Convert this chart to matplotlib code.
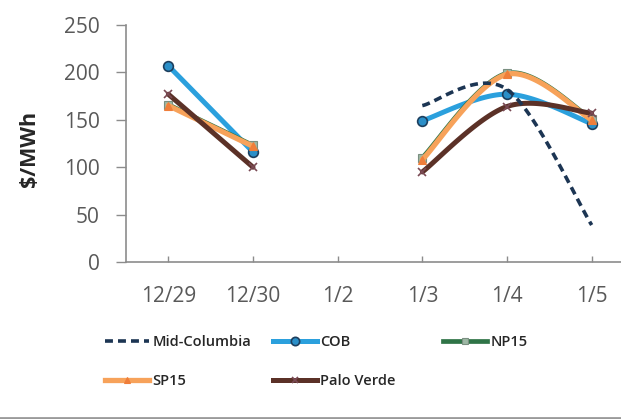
import numpy as np
import matplotlib
matplotlib.use("Agg")
import matplotlib.pyplot as plt
from matplotlib.lines import Line2D

categories = ["12/29", "12/30", "1/2", "1/3", "1/4", "1/5"]
mid_columbia = [None, None, None, 165, 182, 39]
cob = [207, 116, None, 149, 177, 146]
np15 = [166, 123, None, 110, 199, 151]
sp15 = [165, 122, None, 108, 198, 150]
palo_verde = [177, 100, None, 95, 164, 157]

W, H = 621, 419
fig = plt.figure(figsize=(W / 100, H / 100), dpi=100)
ax = fig.add_axes([126 / W, (H - 262) / H, (634 - 126) / W, (262 - 25) / H])

FONT = "Open Sans"


def smooth_segments(vals):
    """Excel-like smoothed line: cubic Bezier through points, per contiguous run."""
    runs, cur = [], []
    for i, v in enumerate(vals):
        if v is None:
            if cur:
                runs.append(cur)
            cur = []
        else:
            cur.append((i, v))
    if cur:
        runs.append(cur)
    out = []
    for run in runs:
        pts = np.array(run, dtype=float)
        n = len(pts)
        xs, ys = [], []
        for k in range(n - 1):
            p0 = pts[max(k - 1, 0)]
            p1 = pts[k]
            p2 = pts[k + 1]
            p3 = pts[min(k + 2, n - 1)]
            c1 = p1 + (p2 - p0) / 6.0
            c2 = p2 - (p3 - p1) / 6.0
            t = np.linspace(0, 1, 40)[:, None]
            b = ((1 - t) ** 3) * p1 + 3 * ((1 - t) ** 2) * t * c1 + 3 * (1 - t) * t ** 2 * c2 + t ** 3 * p2
            xs.extend(b[:, 0]); ys.extend(b[:, 1])
        out.append((np.array(xs), np.array(ys), pts))
    return out


series = [
    ("NP15", np15, dict(color="#2F7447", lw=3.4, ls="-"),
     dict(marker="s", ms=6, mfc="#9DB8A5", mec="#7A8F80", mew=0.8)),
    ("SP15", sp15, dict(color="#F7A25A", lw=3.8, ls="-"),
     dict(marker="^", ms=6, mfc="#EF7E3A", mec="#EF7E3A", mew=0.8)),
    ("COB", cob, dict(color="#2BA0DD", lw=3.6, ls="-"),
     dict(marker="o", ms=7, mfc="#2B8FC8", mec="#1D3F5E", mew=1.2)),
    ("Palo Verde", palo_verde, dict(color="#5B3127", lw=3.6, ls="-"),
     dict(marker="x", ms=6, mfc="#5B3127", mec="#7A4A55", mew=1.2)),
    ("Mid-Columbia", mid_columbia, dict(color="#1C3553", lw=2.6, ls=(0, (2.2, 1.4))),
     dict(marker=None)),
]
zorders = {"NP15": 3, "SP15": 4, "COB": 2, "Palo Verde": 5, "Mid-Columbia": 6}
for name, vals, lstyle, mstyle in series:
    for xs, ys, pts in smooth_segments(vals):
        ax.plot(xs, ys, color=lstyle["color"], lw=lstyle["lw"], ls=lstyle["ls"],
                solid_capstyle="round", zorder=zorders[name])
        if mstyle.get("marker"):
            ax.plot(pts[:, 0], pts[:, 1], ls="none", zorder=zorders[name] + 0.1,
                    **mstyle)

ax.set_xlim(-0.5, len(categories) - 0.5)
ax.set_ylim(0, 250)
ax.set_xticks(range(len(categories)))
ax.set_xticklabels(categories)
ax.set_yticks(range(0, 251, 50))
for s in ["top", "right"]:
    ax.spines[s].set_visible(False)
for s in ["left", "bottom"]:
    ax.spines[s].set_color("#8C8C8C")
    ax.spines[s].set_linewidth(1.2)
ax.tick_params(axis="x", direction="in", length=4, width=1, color="#8C8C8C",
               pad=17, labelsize=15, labelcolor="#595959")
ax.tick_params(axis="y", direction="out", length=7, width=1, color="#8C8C8C",
               pad=12, labelsize=15, labelcolor="#595959")
for lab in ax.get_xticklabels() + ax.get_yticklabels():
    lab.set_fontfamily(FONT)

fig.text(29 / W, (H - 149) / H, "$/MWh", rotation=90, ha="center", va="center",
         fontfamily=FONT, fontweight="bold", fontsize=15.5, color="#262626")

# Legend (manual columns)
def handle(name):
    for n, vals, lstyle, mstyle in series:
        if n == name:
            kw = dict(color=lstyle["color"], lw=lstyle["lw"], ls=lstyle["ls"])
            if mstyle.get("marker"):
                kw.update(mstyle)
                kw["ms"] = kw["ms"] - 1
            return Line2D([], [], **kw)

cols = [(105, ["Mid-Columbia", "SP15"]), (273, ["COB", "Palo Verde"]), (443, ["NP15"])]
for x0, names in cols:
    leg = fig.legend([handle(n) for n in names], names, loc="upper left",
                     bbox_to_anchor=(x0 / W, (H - 335) / H), frameon=False,
                     borderpad=0, borderaxespad=0, handlelength=3.0,
                     handletextpad=0.25, labelspacing=1.7,
                     prop=dict(family=FONT, size=10.5, weight="semibold"))
    for t in leg.get_texts():
        t.set_color("#262626")

# bottom rule
fig.add_artist(Line2D([0, 1], [1.5 / H, 1.5 / H], color="#9A9A9A", lw=2.0,
                      transform=fig.transFigure))

fig.savefig("out.png", dpi=100)
